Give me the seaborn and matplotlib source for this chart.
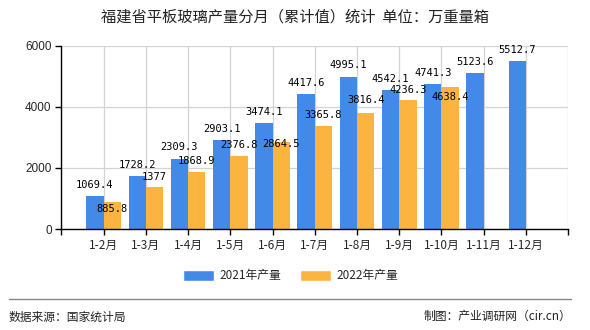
import matplotlib
matplotlib.use("Agg")
import matplotlib.pyplot as plt
import seaborn as sns
import pandas as pd
from matplotlib.patches import Patch

categories = ["1-2月", "1-3月", "1-4月", "1-5月", "1-6月", "1-7月",
              "1-8月", "1-9月", "1-10月", "1-11月", "1-12月"]
values_2021 = [1069.4, 1728.2, 2309.3, 2903.1, 3474.1, 4417.6,
               4995.1, 4542.1, 4741.3, 5123.6, 5512.7]
values_2022 = [885.8, 1377, 1868.9, 2376.8, 2864.5, 3365.8,
               3816.4, 4236.3, 4638.4, None, None]
labels_2022 = ["885.8", "1377", "1868.9", "2376.8", "2864.5", "3365.8",
               "3816.4", "4236.3", "4638.4"]
labels_2021 = ["1069.4", "1728.2", "2309.3", "2903.1", "3474.1", "4417.6",
               "4995.1", "4542.1", "4741.3", "5123.6", "5512.7"]
series_names = ["2021年产量", "2022年产量"]
title = "福建省平板玻璃产量分月（累计值）统计  单位：万重量箱"

# label vertical offsets in points (style, not data)
dy_2021 = [8] * 11
dy_2022 = [-5, 7, 8, 8, -2, 8, 9, 7, -7]

colors = ["#4289E8", "#FBB440"]

sns.set_theme(style="white")
plt.rcParams['font.family'] = ['Noto Sans CJK SC', 'DejaVu Sans']

rows = []
for c, v in zip(categories, values_2021):
    rows.append({"cat": c, "series": series_names[0], "val": v})
for c, v in zip(categories, values_2022):
    rows.append({"cat": c, "series": series_names[1], "val": v})
df = pd.DataFrame(rows)

fig = plt.figure(figsize=(5.9, 3.3), dpi=100)
ax = fig.add_axes([0.104, 0.306, 0.859, 0.555])

sns.barplot(data=df, x="cat", y="val", hue="series", order=categories,
            hue_order=series_names, palette=colors, width=0.82,
            saturation=1, ax=ax, legend=False, errorbar=None,
            linewidth=0, edgecolor="none")

ax.set_xlim(-1, 11)
ax.set_ylim(0, 6000)
ax.set_yticks([0, 2000, 4000, 6000])
ax.set_xticks(range(-1, 12))
ax.set_xticklabels([""] + categories + [""], fontsize=8.5,
                   family=['Noto Sans CJK SC', 'DejaVu Sans'])
ax.set_yticklabels(["0", "2000", "4000", "6000"], fontsize=8.5,
                   family='Liberation Sans')
ax.set_xlabel("")
ax.set_ylabel("")
ax.grid(True, color="#d3d3d3", linewidth=0.9)
ax.set_axisbelow(True)
for s in ["top", "right"]:
    ax.spines[s].set_visible(False)
for s in ["left", "bottom"]:
    ax.spines[s].set_color("black")
    ax.spines[s].set_linewidth(1)
ax.tick_params(axis="both", which="both", direction="out", length=4,
               width=1, color="black", bottom=True, left=True, pad=3)

# value labels
cont21, cont22 = ax.containers[0], ax.containers[1]
for bar, lab, dy in zip(cont21, labels_2021, dy_2021):
    ax.annotate(lab, (bar.get_x() + bar.get_width() / 2, bar.get_height()),
                xytext=(0, dy), textcoords="offset points", ha="center",
                va="center", fontsize=7.5, family="DejaVu Sans Mono",
                color="black")
bars22 = [b for b in cont22 if b.get_height() == b.get_height() and b.get_height() > 0]
for bar, lab, dy in zip(bars22, labels_2022, dy_2022):
    ax.annotate(lab, (bar.get_x() + bar.get_width() / 2, bar.get_height()),
                xytext=(0, dy), textcoords="offset points", ha="center",
                va="center", fontsize=7.5, family="DejaVu Sans Mono",
                color="black")

fig.text(0.5, 0.948, title, ha="center", va="center", fontsize=11,
         color="#222222")

handles = [Patch(facecolor=colors[0]), Patch(facecolor=colors[1])]
fig.legend(handles, series_names, loc="center", bbox_to_anchor=(0.493, 0.164),
           ncol=2, frameon=False, fontsize=8.5, handlelength=2.6,
           handleheight=1.0, columnspacing=1.6, handletextpad=0.5)

fig.add_artist(plt.Line2D([0.015, 0.968], [0.094, 0.094], color="#888888",
                          linewidth=1, transform=fig.transFigure))
fig.text(0.015, 0.04, "数据来源：国家统计局", ha="left", va="center",
         fontsize=8.5, color="#222222")
fig.text(0.968, 0.04, "制图：产业调研网（cir.cn）", ha="right", va="center",
         fontsize=8.5, color="#222222")

fig.savefig("out.png", dpi=100)
